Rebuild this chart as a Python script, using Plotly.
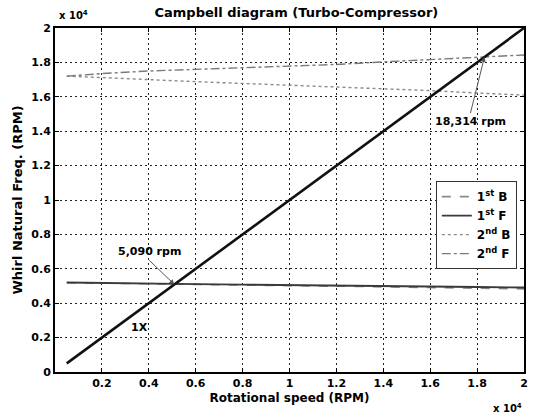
import plotly.graph_objects as go

# Rotational speed samples (RPM)
speed = [500, 2000, 4000, 6000, 8000, 10000, 12000, 14000, 16000, 18000, 20000]

# Whirl natural frequencies (RPM) for each mode
first_b = [5190, 5170, 5130, 5090, 5050, 5020, 4990, 4950, 4910, 4870, 4830]
first_f = [5200, 5185, 5150, 5110, 5080, 5060, 5030, 5000, 4970, 4940, 4910]
second_b = [17200, 17100, 17000, 16880, 16780, 16660, 16580, 16460, 16360, 16220, 16100]
second_f = [17200, 17350, 17500, 17600, 17680, 17760, 17880, 18030, 18170, 18310, 18430]

# 1X excitation line
one_x_speed = [500, 20000]
one_x_freq = [500, 20000]

# Crossing points
cross_low = 5090
cross_high = 18314

x_tick_vals = [2000, 4000, 6000, 8000, 10000, 12000, 14000, 16000, 18000, 20000]
x_tick_text = ["0.2", "0.4", "0.6", "0.8", "1", "1.2", "1.4", "1.6", "1.8", "2"]
y_tick_vals = [0, 2000, 4000, 6000, 8000, 10000, 12000, 14000, 16000, 18000, 20000]
y_tick_text = ["0", "0.2", "0.4", "0.6", "0.8", "1", "1.2", "1.4", "1.6", "1.8", "2"]

FONT = "DejaVu Sans"


def bold(labels):
    return ["<b>%s</b>" % t for t in labels]


fig = go.Figure()
fig.add_trace(go.Scatter(x=speed, y=first_b, mode="lines", name="<b>1<sup>st</sup> B</b>",
                         line=dict(color="#8a8a8a", width=1.6, dash="dash")))
fig.add_trace(go.Scatter(x=speed, y=first_f, mode="lines", name="<b>1<sup>st</sup> F</b>",
                         line=dict(color="#3a3a3a", width=1.9)))
fig.add_trace(go.Scatter(x=speed, y=second_b, mode="lines", name="<b>2<sup>nd</sup> B</b>",
                         line=dict(color="#8a8a8a", width=1.4, dash="dot")))
fig.add_trace(go.Scatter(x=speed, y=second_f, mode="lines", name="<b>2<sup>nd</sup> F</b>",
                         line=dict(color="#7a7a7a", width=1.4, dash="dashdot")))
fig.add_trace(go.Scatter(x=one_x_speed, y=one_x_freq, mode="lines", showlegend=False,
                         line=dict(color="#111111", width=2.6)))

axis_common = dict(
    showline=True, linecolor="black", linewidth=2, mirror="ticks",
    ticks="inside", ticklen=4, tickcolor="black", showgrid=True, gridcolor="#222222",
    griddash="2px,3px", gridwidth=1, zeroline=False,
    tickfont=dict(family=FONT, size=11, color="black"),
)

fig.update_layout(
    width=536, height=414,
    margin=dict(l=55, r=8, t=28, b=42),
    paper_bgcolor="white", plot_bgcolor="white",
    title=dict(text="<b>Campbell diagram (Turbo-Compressor)</b>", x=0.553, xanchor="center",
               y=0.97, yanchor="middle",
               font=dict(family=FONT, size=13, color="black")),
    xaxis=dict(range=[0, 20000], tickvals=x_tick_vals, ticktext=bold(x_tick_text),
               title=dict(text="<b>Rotational speed (RPM)</b>", standoff=4,
                          font=dict(family=FONT, size=12, color="black")),
               **axis_common),
    yaxis=dict(range=[0, 20000], tickvals=y_tick_vals, ticktext=bold(y_tick_text),
               title=dict(text="<b>Whirl Natural Freq. (RPM)</b>", standoff=6,
                          font=dict(family=FONT, size=13, color="black")),
               **axis_common),
    legend=dict(x=0.812, y=0.555, xanchor="left", yanchor="top",
                bgcolor="white", bordercolor="#333333", borderwidth=1,
                font=dict(family=FONT, size=12, color="black"),
                tracegroupgap=2, itemwidth=30),
    showlegend=True,
)

fig.add_annotation(x=cross_low, y=cross_low, ax=-25, ay=-24, text="<b>5,090 rpm</b>",
                   showarrow=True, arrowhead=2, arrowsize=1, arrowwidth=1, arrowcolor="#555555",
                   font=dict(family=FONT, size=11, color="black"), xanchor="center", yanchor="bottom")
fig.add_annotation(x=cross_high, y=cross_high, ax=-14, ay=56, text="<b>18,314 rpm</b>",
                   showarrow=True, arrowhead=2, arrowsize=1, arrowwidth=1, arrowcolor="#555555",
                   font=dict(family=FONT, size=11, color="black"), xanchor="center", yanchor="top")
fig.add_annotation(x=3600, y=2600, text="<b>1X</b>", showarrow=False,
                   font=dict(family=FONT, size=11, color="black"))
fig.add_annotation(xref="paper", yref="paper", x=0.005, y=1.015, yanchor="bottom", xanchor="left",
                   text="<b>x 10<sup>4</sup></b>", showarrow=False,
                   font=dict(family=FONT, size=10, color="black"))
fig.add_annotation(xref="paper", yref="paper", x=1.0, y=-0.08, yanchor="top", xanchor="right",
                   text="<b>x 10<sup>4</sup></b>", showarrow=False,
                   font=dict(family=FONT, size=10, color="black"))

fig.write_html("out.html")
